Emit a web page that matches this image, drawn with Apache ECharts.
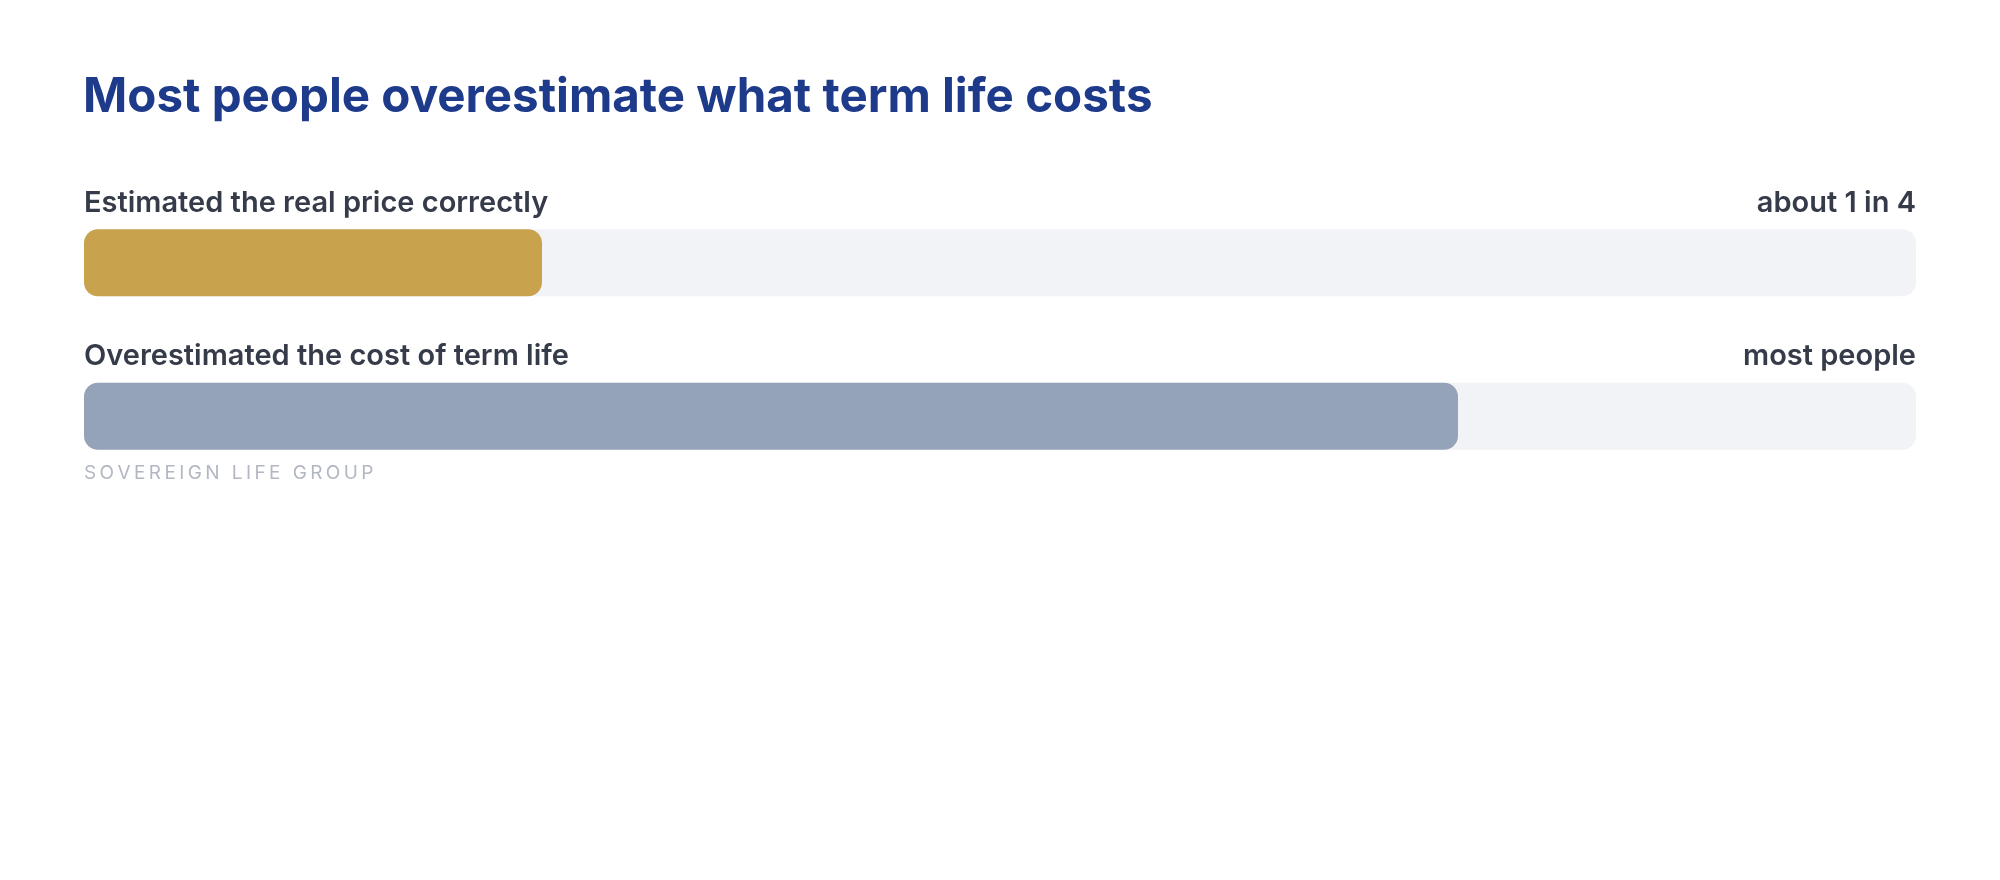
<!DOCTYPE html>
<html>
<head>
<meta charset="utf-8">
<script src="https://cdn.jsdelivr.net/npm/echarts@6/dist/echarts.min.js"></script>
<style>
  html, body { margin: 0; padding: 0; background: #fff; }
  #main { width: 2000px; height: 880px; }
</style>
</head>
<body>
<div id="main"></div>
<script>
// rows of the chart, top to bottom
const categories = ['Estimated the real price correctly', 'Overestimated the cost of term life'];
const shares = [25, 75];            // % of people
const rightLabels = ['about 1 in 4', 'most people'];
const scaleMax = 100;
const barColors = ['#C9A24D', '#94A3B8'];

const font = 'Inter, "Noto Sans", sans-serif';
const labelStyle = {
    fontFamily: font,
    fontSize: 29,
    fontWeight: 600,
    color: '#363B4A'
};

// footer is letter-spaced; zrender has no letterSpacing so lay the glyphs out by hand
function spacedText(text, x, y, size, spacing, fill) {
    const ctx = document.createElement('canvas').getContext('2d');
    ctx.font = '400 ' + size + 'px ' + font;
    const els = [];
    let cx = x;
    for (const ch of text) {
        els.push({
            type: 'text',
            x: cx,
            y: y,
            silent: true,
            style: { text: ch, fontFamily: font, fontSize: size, fontWeight: 400, fill: fill, verticalAlign: 'middle' }
        });
        cx += ctx.measureText(ch).width + spacing;
    }
    return { type: 'group', children: els };
}

const myChart = echarts.init(document.getElementById('main'));

const option = {
    backgroundColor: '#fff',
    animation: false,
    title: {
        text: 'Most people overestimate what term life costs',
        left: 83,
        top: 70,
        padding: 0,
        textStyle: {
            fontFamily: font,
            fontSize: 47.5,
            fontWeight: 700,
            color: '#1E3A8A',
            lineHeight: 56
        }
    },
    grid: { left: 84, right: 84, top: 186, height: 307 },
    xAxis: {
        type: 'value',
        min: 0,
        max: scaleMax,
        show: false
    },
    yAxis: {
        type: 'category',
        data: categories,
        inverse: true,
        show: false
    },
    series: [
        {
            // grey track behind each bar
            name: 'track',
            type: 'bar',
            barWidth: 67,
            barGap: '-100%',
            silent: true,
            data: categories.map(() => scaleMax),
            itemStyle: { color: '#F1F3F6', borderRadius: 14 },
            label: {
                show: true,
                position: ['100%', -26],
                align: 'right',
                verticalAlign: 'middle',
                formatter: p => rightLabels[p.dataIndex],
                ...labelStyle
            }
        },
        {
            name: 'share',
            type: 'bar',
            barWidth: 67,
            barGap: '-100%',
            data: shares.map((v, i) => ({ value: v, itemStyle: { color: barColors[i] } })),
            itemStyle: { borderRadius: 14 },
            label: {
                show: true,
                position: [0, -26],
                align: 'left',
                verticalAlign: 'middle',
                formatter: p => categories[p.dataIndex],
                ...labelStyle
            }
        }
    ],
    graphic: [
        spacedText('SOVEREIGN LIFE GROUP', 84, 473, 19, 3.4, '#B3B7C3')
    ]
};

myChart.setOption(option);
</script>
</body>
</html>
